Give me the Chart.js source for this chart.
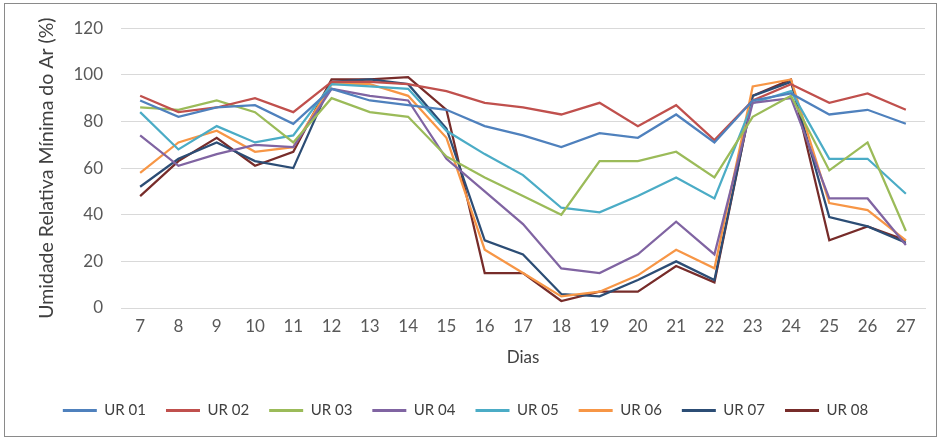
<!DOCTYPE html>
<html>
<head>
<meta charset="utf-8">
<script src="https://cdn.jsdelivr.net/npm/chart.js@4.4.1/dist/chart.umd.min.js"></script>
<style>
  html, body { margin: 0; padding: 0; background: #fff; }
  #wrap { position: relative; width: 941px; height: 440px; }
  #frame { position: absolute; left: 4px; top: 3px; width: 931px; height: 432px; border: 1px solid #8a8a8a; pointer-events: none; }
  canvas { position: absolute; left: 0; top: 0; }
</style>
</head>
<body>
<div id="wrap">
  <canvas id="c" width="941" height="440"></canvas>
  <div id="frame"></div>
</div>
<script>
const days = ['7','8','9','10','11','12','13','14','15','16','17','18','19','20','21','22','23','24','25','26','27'];
const seriesNames = ['UR 01','UR 02','UR 03','UR 04','UR 05','UR 06','UR 07','UR 08'];
const ur01 = [89, 82, 86, 87, 79, 94, 89, 87, 85, 78, 74, 69, 75, 73, 83, 71, 89, 92, 83, 85, 79];
const ur02 = [91, 84, 86, 90, 84, 97, 97, 96, 93, 88, 86, 83, 88, 78, 87, 72, 89, 96, 88, 92, 85];
const ur03 = [86, 85, 89, 84, 71, 90, 84, 82, 65, 56, 48, 40, 63, 63, 67, 56, 82, 91, 59, 71, 33];
const ur04 = [74, 61, 66, 70, 69, 94, 91, 89, 64, 50, 36, 17, 15, 23, 37, 23, 88, 90, 47, 47, 27];
const ur05 = [84, 68, 78, 71, 74, 96, 95, 94, 76, 66, 57, 43, 41, 48, 56, 47, 88, 93, 64, 64, 49];
const ur06 = [58, 71, 76, 67, 69, 96, 96, 91, 73, 25, 15, 5, 7, 14, 25, 17, 95, 98, 45, 42, 29];
const ur07 = [52, 64, 71, 63, 60, 97, 98, 96, 77, 29, 23, 6, 5, 12, 20, 12, 91, 97, 39, 35, 28];
const ur08 = [48, 63, 73, 61, 67, 98, 98, 99, 85, 15, 15, 3, 7, 7, 18, 11, 91, 98, 29, 35, 29];
const yTicks = [0, 20, 40, 60, 80, 100, 120];

const allSeries = [ur01, ur02, ur03, ur04, ur05, ur06, ur07, ur08];
const colors = ['#4F81BD', '#C0504D', '#9BBB59', '#8064A2', '#4BACC6', '#F79646', '#2C4D75', '#772C2A'];

const datasets = allSeries.map((vals, i) => ({
  label: seriesNames[i],
  data: vals,
  borderColor: colors[i],
  backgroundColor: colors[i],
  borderWidth: 2.25,
  pointRadius: 0,
  tension: 0,
  fill: false
}));

const FONT = 'Lato, "Open Sans", sans-serif';

const legendShift = {
  id: 'legendShift',
  afterLayout(chart) {
    const lg = chart.legend;
    if (lg) { lg.left += 3; lg.right += 3; }
  }
};

new Chart(document.getElementById('c'), {
  type: 'line',
  data: { labels: days, datasets },
  plugins: [legendShift],
  options: {
    responsive: false,
    animation: false,
    layout: { padding: { top: 24, right: 16, left: 0, bottom: 12 } },
    plugins: {
      tooltip: { enabled: false },
      legend: {
        position: 'bottom',
        labels: {
          font: { family: FONT, size: 15 },
          color: '#404040',
          boxWidth: 34,
          boxHeight: 3,
          padding: 20,
          generateLabels(chart) {
            const items = Chart.defaults.plugins.legend.labels.generateLabels(chart);
            items.forEach(it => { it.lineWidth = 0; it.fillStyle = it.strokeStyle; });
            return items;
          }
        }
      }
    },
    scales: {
      x: {
        offset: true,
        grid: { display: false, drawTicks: false },
        border: { display: true, color: '#d9d9d9' },
        ticks: { font: { family: FONT, size: 17 }, color: '#595959', padding: 8, maxRotation: 0, autoSkip: false },
        title: { display: true, text: 'Dias', font: { family: FONT, size: 17 }, color: '#404040', padding: { top: 4, bottom: 15 } },
        afterFit(scale) { scale.height = 75; }
      },
      y: {
        min: 0, max: 120,
        afterBuildTicks(scale) { scale.ticks = yTicks.map(v => ({ value: v })); },
        grid: { color: '#d9d9d9', lineWidth: 1, drawTicks: false },
        border: { display: false },
        ticks: { font: { family: FONT, size: 17 }, color: '#595959', padding: 18 },
        title: { display: true, text: 'Umidade Relativa Mínima do Ar (%)', font: { family: FONT, size: 19.5 }, color: '#404040', padding: { top: 35, bottom: 0 } },
        afterFit(scale) { scale.width = 121; }
      }
    }
  }
});
</script>
</body>
</html>
